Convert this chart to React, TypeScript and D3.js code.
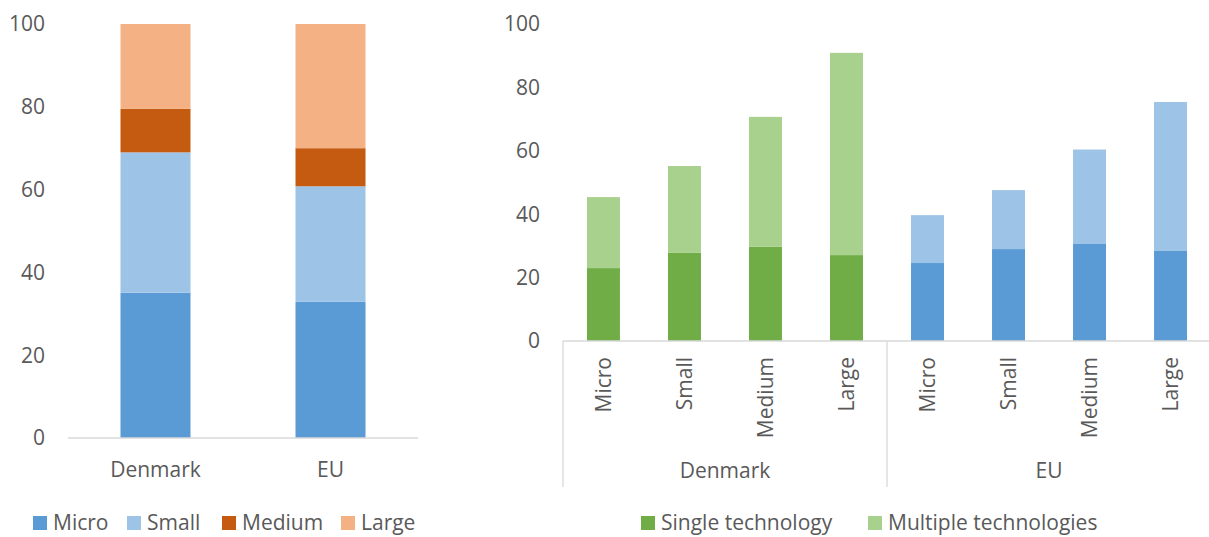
import React from "react";
import * as d3 from "d3";

const leftCategories = ["Denmark", "EU"];
const sizeSeries = ["Micro", "Small", "Medium", "Large"];
const sizeColors = ["#5B9BD5", "#9DC3E6", "#C55A11", "#F4B183"];
const microShare = [35.1, 32.9];
const smallShare = [33.9, 27.9];
const mediumShare = [10.5, 9.2];
const largeShare = [20.5, 30.0];

const regions = ["Denmark", "EU"];
const sizes = ["Micro", "Small", "Medium", "Large"];
const singleTech = [23.0, 27.8, 29.7, 27.1, 24.6, 29.0, 30.6, 28.4];
const multipleTech = [22.4, 27.4, 41.0, 63.8, 15.1, 18.6, 29.8, 47.0];
const techSeries = ["Single technology", "Multiple technologies"];
const denmarkColors = ["#70AD47", "#A9D18E"];
const euColors = ["#5B9BD5", "#9DC3E6"];

const yTicks = [0, 20, 40, 60, 80, 100];

const FONT = "'Open Sans', sans-serif";
const TEXT = "#595959";
const AXIS = "#D9D9D9";
const FS = 21;

export default function App() {
  // Left chart
  const lx = d3.scaleBand<string>().domain(leftCategories).range([68, 418]).paddingInner(0.6).paddingOuter(0.3);
  const ly = d3.scaleLinear().domain([0, 100]).range([438, 24]);
  const leftRows = leftCategories.map((c, i) => ({
    cat: c,
    Micro: microShare[i],
    Small: smallShare[i],
    Medium: mediumShare[i],
    Large: largeShare[i],
  }));
  const stack = d3.stack<any>().keys(sizeSeries);
  const leftStacked = stack(leftRows);

  // Right chart
  const cats = regions.flatMap((r) => sizes.map((s) => `${r}|${s}`));
  const rx = d3.scaleBand<string>().domain(cats).range([563, 1211]).paddingInner(0.593).paddingOuter(0.296);
  const ry = d3.scaleLinear().domain([0, 100]).range([341, 24]);
  const step = rx.step();
  const rightRows = cats.map((c, i) => ({ cat: c, single: singleTech[i], multiple: multipleTech[i] }));
  const rightStacked = d3.stack<any>().keys(["single", "multiple"])(rightRows);

  const regionStart = (ri: number) => 563 + ri * sizes.length * step;

  return (
    <svg width={1209} height={537} style={{ position: "absolute", left: 0, top: 0 }} fontFamily={FONT}>
      <rect width={1209} height={537} fill="#fff" />
      {/* Left chart */}
      {yTicks.map((t) => (
        <text key={"lt" + t} x={45} y={ly(t)} dy="0.35em" textAnchor="end" fontSize={FS} fill={TEXT}>
          {t}
        </text>
      ))}
      {leftStacked.map((layer, li) =>
        layer.map((d, i) => (
          <rect
            key={`l${li}-${i}`}
            x={lx(leftCategories[i])}
            y={ly(d[1])}
            width={lx.bandwidth()}
            height={ly(d[0]) - ly(d[1])}
            fill={sizeColors[li]}
          />
        ))
      )}
      <line x1={68} x2={418} y1={ly(0)} y2={ly(0)} stroke={AXIS} strokeWidth={1.3} />
      {leftCategories.map((c) => (
        <text key={"lc" + c} x={(lx(c) as number) + lx.bandwidth() / 2} y={477} textAnchor="middle" fontSize={FS} fill={TEXT}>
          {c}
        </text>
      ))}
      {(() => {
        const xs = [33, 127, 222, 341];
        return sizeSeries.map((s, i) => (
          <g key={"lg" + s}>
            <rect x={xs[i]} y={516} width={14} height={14} fill={sizeColors[i]} />
            <text x={xs[i] + 20} y={530} fontSize={FS} fill={TEXT}>
              {s}
            </text>
          </g>
        ));
      })()}

      {/* Right chart */}
      {yTicks.map((t) => (
        <text key={"rt" + t} x={540} y={ry(t)} dy="0.35em" textAnchor="end" fontSize={FS} fill={TEXT}>
          {t}
        </text>
      ))}
      {rightStacked.map((layer, li) =>
        layer.map((d, i) => {
          const region = Math.floor(i / sizes.length);
          const colors = region === 0 ? denmarkColors : euColors;
          return (
            <rect
              key={`r${li}-${i}`}
              x={rx(cats[i])}
              y={ry(d[1])}
              width={rx.bandwidth()}
              height={ry(d[0]) - ry(d[1])}
              fill={colors[li]}
            />
          );
        })
      )}
      <line x1={563} x2={1211} y1={ry(0)} y2={ry(0)} stroke={AXIS} strokeWidth={1.3} />
      {[0, 1, 2].map((k) => (
        <line key={"sep" + k} x1={regionStart(k)} x2={regionStart(k)} y1={ry(0)} y2={487} stroke={AXIS} strokeWidth={1.3} />
      ))}
      {cats.map((c) => {
        const cx = (rx(c) as number) + rx.bandwidth() / 2;
        return (
          <text
            key={"rc" + c}
            transform={`translate(${cx},357) rotate(-90)`}
            textAnchor="end"
            dy="0.35em"
            fontSize={FS}
            fill={TEXT}
          >
            {c.split("|")[1]}
          </text>
        );
      })}
      {regions.map((r, ri) => (
        <text
          key={"rg" + r}
          x={regionStart(ri) + (sizes.length * step) / 2}
          y={478}
          textAnchor="middle"
          fontSize={FS}
          fill={TEXT}
        >
          {r}
        </text>
      ))}
      {(() => {
        const xs = [641, 868];
        return techSeries.map((s, i) => (
          <g key={"rl" + s}>
            <rect x={xs[i]} y={516} width={14} height={14} fill={denmarkColors[i]} />
            <text x={xs[i] + 20} y={530} fontSize={FS} fill={TEXT}>
              {s}
            </text>
          </g>
        ));
      })()}
    </svg>
  );
}
